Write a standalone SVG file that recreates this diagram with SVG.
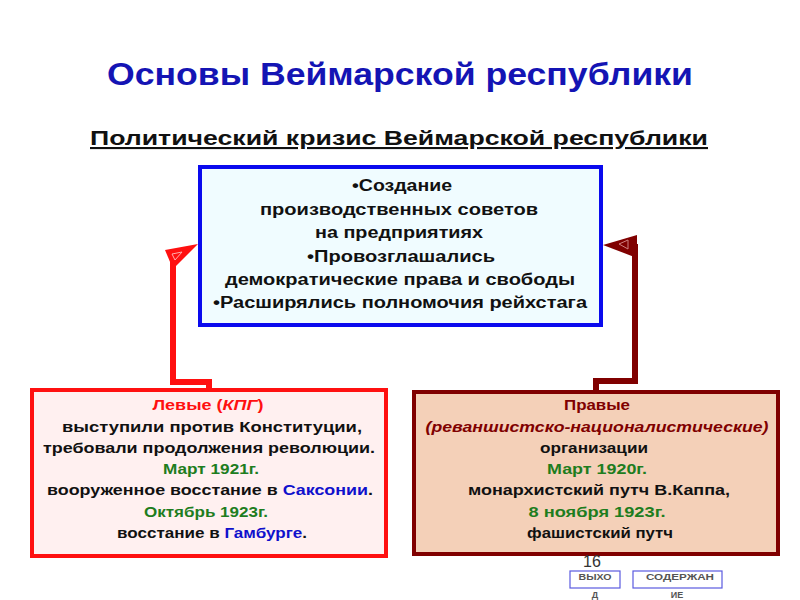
<svg xmlns="http://www.w3.org/2000/svg" width="800" height="600" viewBox="0 0 800 600">
<style>
text{font-family:"Liberation Sans",Arial,sans-serif;text-anchor:middle;}
.t{font-weight:bold;font-size:16px;fill:#111;}
.b{font-weight:bold;font-size:14px;fill:#111;}
.g{fill:#1e7d1e;}
.bl{fill:#1010cc;}
.btn{fill:none;stroke:#5a5ae0;stroke-width:1.2;}
.bt{font-size:9px;font-weight:bold;fill:#555;}
</style>
<rect width="800" height="600" fill="#fff"/>
<text x="400" y="85" font-size="31" font-weight="bold" fill="#1414b4" textLength="586" lengthAdjust="spacingAndGlyphs">Основы Веймарской республики</text>
<text x="399" y="145" font-size="21" font-weight="bold" fill="#111" text-decoration="underline" textLength="618" lengthAdjust="spacingAndGlyphs">Политический кризис Веймарской республики</text>

<g id="connectors">
<polyline points="209,389 209,382 173,382 173,262" fill="none" stroke="#ff1010" stroke-width="6"/>
<polygon points="165,250 198,244 173,269" fill="#ff1010"/>
<polygon points="172,254 182,252 175,260" fill="none" stroke="#ffaaaa" stroke-width="1"/>
<polyline points="596,391 596,381 635,381 635,244" fill="none" stroke="#800000" stroke-width="6"/>
<polygon points="603,245 637,235 637,258" fill="#800000"/>
<polygon points="619,244 628,240 628,249" fill="none" stroke="#d08080" stroke-width="1"/>
</g>

<g id="top">
<rect x="200" y="167" width="401" height="158" fill="#f0fcff" stroke="#0a0aee" stroke-width="4"/>
<text class="t" x="402" y="191" textLength="100" lengthAdjust="spacingAndGlyphs">•Создание</text>
<text class="t" x="399" y="215" textLength="278" lengthAdjust="spacingAndGlyphs">производственных советов</text>
<text class="t" x="399" y="238" textLength="168" lengthAdjust="spacingAndGlyphs">на предприятиях</text>
<text class="t" x="401" y="262" textLength="188" lengthAdjust="spacingAndGlyphs">•Провозглашались</text>
<text class="t" x="400" y="285" textLength="350" lengthAdjust="spacingAndGlyphs">демократические права и свободы</text>
<text class="t" x="400" y="308" textLength="374" lengthAdjust="spacingAndGlyphs">•Расширялись полномочия рейхстага</text>
</g>

<g id="left">
<rect x="32" y="390" width="354" height="166" fill="#fff0f0" stroke="#ff1010" stroke-width="4"/>
<text class="b" x="208" y="410" style="fill:#ff1010" textLength="111" lengthAdjust="spacingAndGlyphs">Левые (<tspan font-style="italic">КПГ</tspan>)</text>
<text class="b" x="212" y="432" textLength="300" lengthAdjust="spacingAndGlyphs">выступили против Конституции,</text>
<text class="b" x="209" y="453" textLength="332" lengthAdjust="spacingAndGlyphs">требовали продолжения революции.</text>
<text class="b" x="211" y="474" textLength="96" lengthAdjust="spacingAndGlyphs"><tspan class="g">Март 1921г.</tspan></text>
<text class="b" x="210" y="495" textLength="326" lengthAdjust="spacingAndGlyphs">вооруженное восстание в <tspan class="bl">Саксонии</tspan>.</text>
<text class="b" x="206" y="517" textLength="124" lengthAdjust="spacingAndGlyphs"><tspan class="g">Октябрь 1923г.</tspan></text>
<text class="b" x="212" y="538" textLength="190" lengthAdjust="spacingAndGlyphs">восстание в <tspan class="bl">Гамбурге</tspan>.</text>
</g>

<g id="right">
<rect x="414" y="392" width="364" height="162" fill="#f4d0b8" stroke="#800000" stroke-width="4"/>
<text class="b" x="597" y="410" style="fill:#800000" textLength="66" lengthAdjust="spacingAndGlyphs">Правые</text>
<text class="b" x="597" y="432" font-style="italic" style="fill:#800000" textLength="343" lengthAdjust="spacingAndGlyphs">(реваншистско-националистические)</text>
<text class="b" x="594" y="453" textLength="108" lengthAdjust="spacingAndGlyphs">организации</text>
<text class="b" x="597" y="474" textLength="100" lengthAdjust="spacingAndGlyphs"><tspan class="g">Март 1920г.</tspan></text>
<text class="b" x="599" y="495" textLength="262" lengthAdjust="spacingAndGlyphs">монархистский путч В.Каппа,</text>
<text class="b" x="597" y="517" textLength="137" lengthAdjust="spacingAndGlyphs"><tspan class="g">8 ноября 1923г.</tspan></text>
<text class="b" x="600" y="538" textLength="146" lengthAdjust="spacingAndGlyphs">фашистский путч</text>
</g>

<text x="592" y="567" font-size="16" fill="#333">16</text>

<g id="btn-exit">
<rect class="btn" x="570" y="571" width="50" height="17"/>
<text class="bt" x="595" y="580" textLength="33" lengthAdjust="spacingAndGlyphs">ВЫХО</text>
<text class="bt" x="595" y="598">Д</text>
</g>
<g id="btn-contents">
<rect class="btn" x="633" y="571" width="89" height="17"/>
<text class="bt" x="680" y="580" textLength="68" lengthAdjust="spacingAndGlyphs">СОДЕРЖАН</text>
<text class="bt" x="677" y="598">ИЕ</text>
</g>
</svg>
